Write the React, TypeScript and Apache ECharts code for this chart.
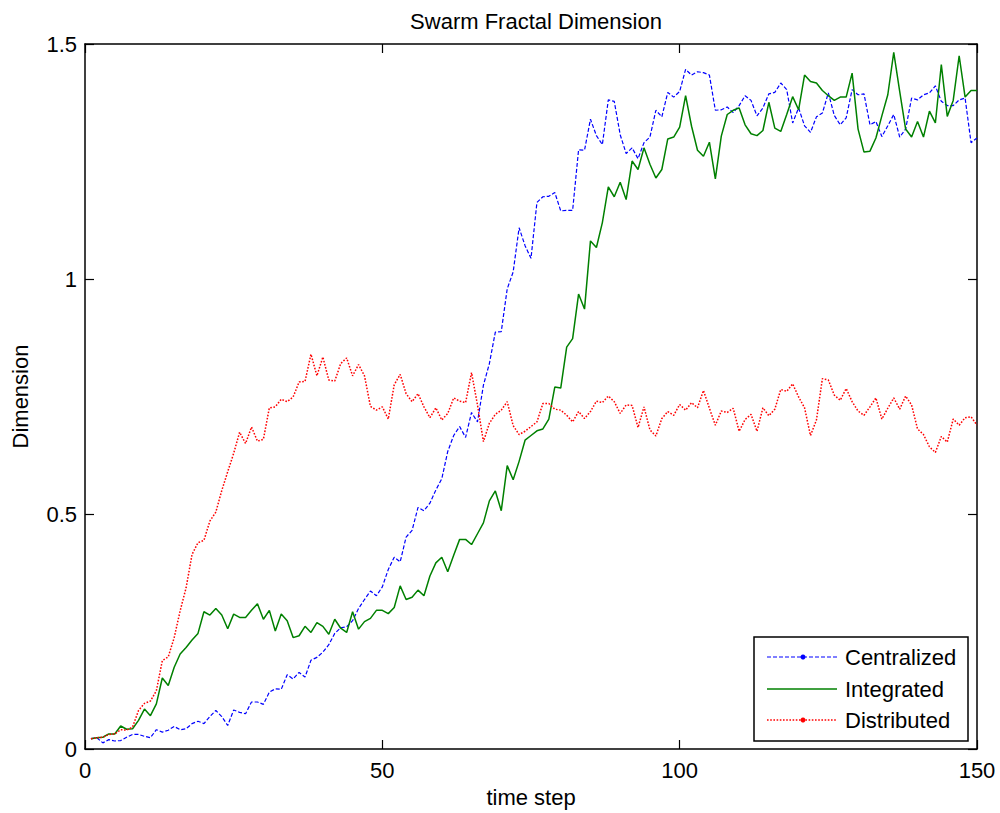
import React, { useEffect, useRef } from "react";
import * as echarts from "echarts";

const FONT = '"Liberation Sans", Arial, Helvetica, sans-serif';

const xTicks = [0, 50, 100, 150];
const yTicks = [0, 0.5, 1, 1.5];

const seriesNames = ["Centralized", "Integrated", "Distributed"];
const seriesColors = ["#0000FF", "#008000", "#FF0000"];

const centralized = [
  0.022, 0.024, 0.013, 0.02, 0.017, 0.018, 0.025, 0.031, 0.031, 0.027,
  0.024, 0.041, 0.036, 0.04, 0.048, 0.041, 0.043, 0.054, 0.059, 0.054,
  0.069, 0.082, 0.069, 0.05, 0.083, 0.078, 0.075, 0.1, 0.1, 0.095,
  0.121, 0.128, 0.127, 0.158, 0.149, 0.163, 0.153, 0.189, 0.195, 0.206,
  0.222, 0.246, 0.258, 0.26, 0.273, 0.299, 0.318, 0.336, 0.326, 0.345,
  0.382, 0.408, 0.398, 0.451, 0.465, 0.514, 0.507, 0.523, 0.551, 0.575,
  0.633, 0.667, 0.686, 0.663, 0.716, 0.696, 0.774, 0.82, 0.887, 0.888,
  0.979, 1.015, 1.109, 1.071, 1.044, 1.163, 1.175, 1.176, 1.184, 1.145,
  1.146, 1.146, 1.275, 1.274, 1.34, 1.305, 1.286, 1.381, 1.378, 1.307,
  1.267, 1.279, 1.256, 1.29, 1.302, 1.359, 1.345, 1.397, 1.387, 1.399,
  1.446, 1.434, 1.441, 1.439, 1.434, 1.359, 1.36, 1.366, 1.354, 1.369,
  1.39, 1.38, 1.347, 1.364, 1.394, 1.397, 1.417, 1.403, 1.332, 1.364,
  1.326, 1.312, 1.345, 1.353, 1.396, 1.348, 1.328, 1.343, 1.403, 1.392,
  1.394, 1.328, 1.335, 1.303, 1.326, 1.35, 1.302, 1.319, 1.385, 1.381,
  1.392, 1.396, 1.411, 1.378, 1.369, 1.369, 1.381, 1.385, 1.29, 1.3,
];

const integrated = [
  0.022, 0.024, 0.025, 0.032, 0.032, 0.049, 0.042, 0.043, 0.061, 0.085,
  0.071, 0.096, 0.151, 0.135, 0.174, 0.202, 0.216, 0.232, 0.246, 0.292,
  0.285, 0.299, 0.285, 0.256, 0.287, 0.28, 0.28, 0.295, 0.309, 0.276,
  0.295, 0.251, 0.287, 0.273, 0.237, 0.241, 0.261, 0.248, 0.269, 0.261,
  0.244, 0.276, 0.257, 0.248, 0.292, 0.255, 0.271, 0.278, 0.295, 0.295,
  0.288, 0.301, 0.347, 0.318, 0.323, 0.338, 0.326, 0.368, 0.396, 0.408,
  0.377, 0.412, 0.446, 0.446, 0.435, 0.458, 0.481, 0.528, 0.549, 0.507,
  0.603, 0.573, 0.612, 0.657, 0.667, 0.677, 0.681, 0.702, 0.77, 0.768,
  0.855, 0.873, 0.968, 0.936, 1.081, 1.067, 1.12, 1.196, 1.175, 1.206,
  1.169, 1.251, 1.233, 1.279, 1.244, 1.215, 1.233, 1.298, 1.302, 1.323,
  1.39, 1.325, 1.274, 1.261, 1.291, 1.213, 1.304, 1.35, 1.359, 1.364,
  1.328, 1.309, 1.305, 1.316, 1.376, 1.321, 1.314, 1.35, 1.388, 1.36,
  1.434, 1.42, 1.417, 1.401, 1.39, 1.38, 1.387, 1.387, 1.438, 1.319,
  1.27, 1.272, 1.3, 1.347, 1.392, 1.482, 1.399, 1.319, 1.302, 1.335,
  1.302, 1.357, 1.332, 1.456, 1.346, 1.38, 1.475, 1.387, 1.401, 1.401,
];

const distributed = [
  0.022, 0.024, 0.025, 0.031, 0.032, 0.041, 0.04, 0.047, 0.082, 0.097,
  0.102, 0.124, 0.188, 0.196, 0.237, 0.294, 0.343, 0.414, 0.439, 0.444,
  0.485, 0.504, 0.55, 0.59, 0.629, 0.674, 0.65, 0.685, 0.655, 0.659,
  0.726, 0.728, 0.744, 0.739, 0.749, 0.781, 0.782, 0.84, 0.794, 0.834,
  0.785, 0.783, 0.82, 0.832, 0.794, 0.818, 0.794, 0.729, 0.721, 0.728,
  0.702, 0.775, 0.797, 0.756, 0.739, 0.756, 0.728, 0.705, 0.726, 0.7,
  0.714, 0.747, 0.74, 0.737, 0.801, 0.732, 0.654, 0.693, 0.712, 0.721,
  0.739, 0.688, 0.669, 0.676, 0.686, 0.696, 0.735, 0.735, 0.723, 0.721,
  0.71, 0.696, 0.718, 0.703, 0.718, 0.74, 0.737, 0.751, 0.739, 0.714,
  0.732, 0.731, 0.684, 0.728, 0.679, 0.666, 0.703, 0.718, 0.71, 0.733,
  0.721, 0.737, 0.726, 0.763, 0.725, 0.689, 0.719, 0.716, 0.725, 0.676,
  0.701, 0.712, 0.676, 0.726, 0.709, 0.723, 0.765, 0.761, 0.777, 0.749,
  0.726, 0.667, 0.7, 0.788, 0.785, 0.753, 0.742, 0.767, 0.739, 0.719,
  0.71, 0.728, 0.747, 0.702, 0.725, 0.747, 0.723, 0.751, 0.732, 0.681,
  0.669, 0.643, 0.631, 0.665, 0.653, 0.702, 0.689, 0.705, 0.707, 0.689,
];

const allSeries = [centralized, integrated, distributed];
const lineTypes: any[] = [[4, 2], "solid", [1.6, 1.6]];
const lineWidths = [1.2, 1.5, 1.5];

export default function App() {
  const ref = useRef<HTMLDivElement>(null);

  useEffect(() => {
    if (!ref.current) return;
    const chart = echarts.init(ref.current, null, { renderer: "svg", width: 1000, height: 813 });

    const tickCommon = {
      type: "value" as const,
      axisLine: { show: true, onZero: false, lineStyle: { color: "#000", width: 1.5 } },
      axisTick: { show: true, inside: true, length: 9, lineStyle: { color: "#000", width: 1.2 } },
      splitLine: { show: false },
    };

    const legendX = 754;
    const legendY = 637;
    const rowYs = [657, 689, 720];
    const legendElems: any[] = [
      {
        type: "rect",
        shape: { x: legendX, y: legendY, width: 214, height: 104 },
        style: { fill: "#fff", stroke: "#000", lineWidth: 1.5 },
        z: 100,
      },
    ];
    seriesNames.forEach((name, i) => {
      legendElems.push({
        type: "line",
        shape: { x1: 767, y1: rowYs[i], x2: 837, y2: rowYs[i] },
        style: {
          stroke: seriesColors[i],
          lineWidth: lineWidths[i],
          lineDash: lineTypes[i] === "solid" ? null : lineTypes[i],
        },
        z: 101,
      });
      if (i !== 1) {
        legendElems.push({
          type: "circle",
          shape: { cx: 803, cy: rowYs[i], r: 2.5 },
          style: { fill: seriesColors[i] },
          z: 102,
        });
      }
      legendElems.push({
        type: "text",
        x: 845,
        y: rowYs[i],
        style: {
          text: name,
          fill: "#000",
          font: `22px ${FONT}`,
          verticalAlign: "middle",
          textAlign: "left",
        },
        z: 102,
      });
    });

    chart.setOption({
      animation: false,
      backgroundColor: "#fff",
      title: {
        text: "Swarm Fractal Dimension",
        left: 531,
        top: 5,
        textAlign: "center",
        textStyle: { fontFamily: FONT, fontSize: 22, fontWeight: "normal", color: "#000" },
      },
      grid: { left: 85, top: 44, width: 892, height: 708, show: false },
      xAxis: [
        {
          ...tickCommon,
          position: "bottom",
          min: xTicks[0],
          max: xTicks[xTicks.length - 1],
          interval: 50,
          name: "time step",
          nameLocation: "middle",
          nameGap: 37,
          nameTextStyle: { fontFamily: FONT, fontSize: 22, color: "#000" },
          axisLabel: { fontFamily: FONT, fontSize: 22, color: "#000", margin: 10 },
        },
        {
          ...tickCommon,
          position: "top",
          min: xTicks[0],
          max: xTicks[xTicks.length - 1],
          interval: 50,
          axisLabel: { show: false },
        },
      ],
      yAxis: [
        {
          ...tickCommon,
          position: "left",
          min: yTicks[0],
          max: yTicks[yTicks.length - 1],
          interval: 0.5,
          name: "Dimension",
          nameLocation: "middle",
          nameGap: 54,
          nameRotate: 90,
          nameTextStyle: { fontFamily: FONT, fontSize: 22, color: "#000" },
          axisLabel: { fontFamily: FONT, fontSize: 22, color: "#000", margin: 8 },
        },
        {
          ...tickCommon,
          position: "right",
          min: yTicks[0],
          max: yTicks[yTicks.length - 1],
          interval: 0.5,
          axisLabel: { show: false },
        },
      ],
      series: allSeries.map((vals, i) => ({
        name: seriesNames[i],
        type: "line",
        xAxisIndex: 0,
        yAxisIndex: 0,
        symbol: "none",
        data: vals.map((v, k) => [k + 1, v]),
        lineStyle: { color: seriesColors[i], width: lineWidths[i], type: lineTypes[i] },
        itemStyle: { color: seriesColors[i] },
      })),
      graphic: legendElems,
    });

    return () => chart.dispose();
  }, []);

  return (
    <div
      ref={ref}
      style={{ position: "fixed", left: 0, top: 0, width: 1000, height: 813, background: "#fff" }}
    />
  );
}
